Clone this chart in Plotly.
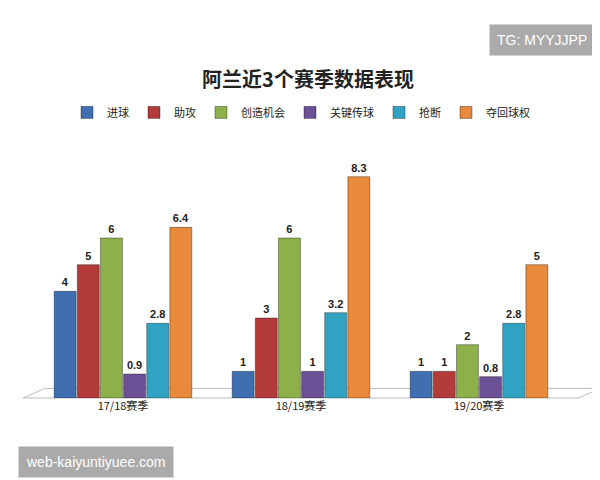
import plotly.graph_objects as go

seasons = ["17/18赛季", "18/19赛季", "19/20赛季"]
series = ["进球", "助攻", "创造机会", "关键传球", "抢断", "夺回球权"]
values = [
    [4, 1, 1],
    [5, 3, 1],
    [6, 6, 2],
    [0.9, 1, 0.8],
    [2.8, 3.2, 2.8],
    [6.4, 8.3, 5],
]
colors = ["#3f6fb0", "#b33c3b", "#8db04b", "#6c5096", "#31a3c2", "#e8893b"]

fig = go.Figure()
for name, vals, c in zip(series, values, colors):
    fig.add_trace(go.Bar(
        x=seasons, y=vals, name=name, marker=dict(color=c, line=dict(color="rgba(0,0,0,0.35)", width=1)),
        text=[f"<b>{v:g}</b>" for v in vals], textposition="outside",
        textfont=dict(size=11, color="#222", family="Liberation Sans"), cliponaxis=False,
    ))

fig.update_layout(
    width=600, height=480, paper_bgcolor="white", plot_bgcolor="white",
    barmode="group", bargap=0.22, bargroupgap=0.05,
    margin=dict(l=26, r=40, t=150, b=90),
    title=dict(text="<b>阿兰近3个赛季数据表现</b>", x=0.5, y=0.85, xanchor="center", yanchor="middle",
               yref="container",
               font=dict(size=20, family="Noto Sans CJK SC", color="#222")),
    legend=dict(orientation="h", x=0.5, xanchor="center", y=1.19, yanchor="middle",
                font=dict(size=11, family="Noto Sans CJK SC", color="#222"),
                itemwidth=30, traceorder="normal"),
    xaxis=dict(showline=False, ticks="", tickfont=dict(size=11, family="Noto Sans CJK SC", color="#222")),
    yaxis=dict(range=[0, 9], visible=False),
    showlegend=True,
    shapes=[dict(type="path", xref="paper", yref="paper",
                 path="M -0.02 0 L 1.02 0 L 1.06 0.04 L 0.02 0.04 Z",
                 line=dict(color="#bbb", width=1), fillcolor="rgba(0,0,0,0)", layer="below")],
    annotations=[
        dict(text="TG: MYYJJPP", xref="paper", yref="paper", x=1.05, y=1.56, xanchor="right", yanchor="top",
             showarrow=False, bgcolor="#aaaaaa", font=dict(color="white", size=14, family="Liberation Sans"),
             borderpad=7),
        dict(text="web-kaiyuntiyuee.com", xref="paper", yref="paper", x=-0.03, y=-0.2, xanchor="left", yanchor="top",
             showarrow=False, bgcolor="#aaaaaa", font=dict(color="white", size=14, family="Liberation Sans"),
             borderpad=7),
    ],
)
fig.write_html("out.html")
